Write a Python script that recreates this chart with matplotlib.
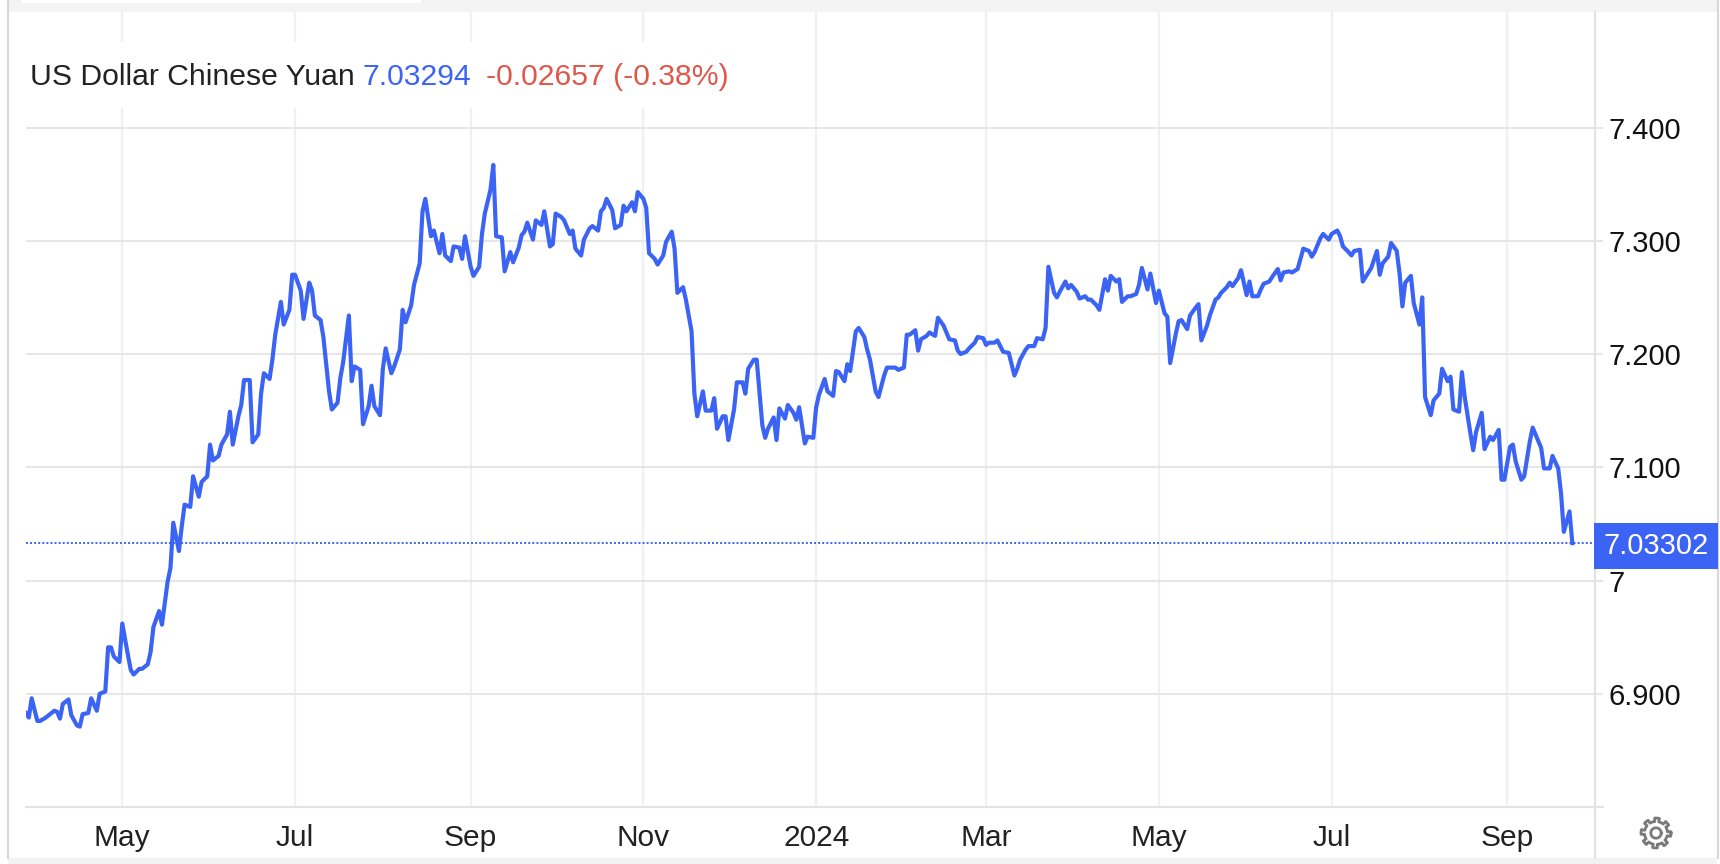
import numpy as np
import pandas as pd
import matplotlib
matplotlib.use("Agg")
import matplotlib.pyplot as plt
import matplotlib.dates as mdates
import matplotlib.transforms as mtrans
from matplotlib.patches import Rectangle
from matplotlib.lines import Line2D

# USD/CNY daily close
dates = [
    "2023-03-28", "2023-03-29", "2023-03-30", "2023-04-01", "2023-04-02", "2023-04-04", "2023-04-05", "2023-04-07", "2023-04-08", "2023-04-09",
    "2023-04-10", "2023-04-12", "2023-04-13", "2023-04-15", "2023-04-16", "2023-04-17", "2023-04-19", "2023-04-20", "2023-04-22", "2023-04-23",
    "2023-04-25", "2023-04-26", "2023-04-27", "2023-04-28", "2023-04-30", "2023-05-01", "2023-05-03", "2023-05-04", "2023-05-05", "2023-05-07",
    "2023-05-08", "2023-05-10", "2023-05-11", "2023-05-12", "2023-05-14", "2023-05-15", "2023-05-17", "2023-05-18", "2023-05-19", "2023-05-21",
    "2023-05-22", "2023-05-23", "2023-05-25", "2023-05-26", "2023-05-28", "2023-05-29", "2023-05-31", "2023-06-01", "2023-06-02", "2023-06-04",
    "2023-06-05", "2023-06-07", "2023-06-08", "2023-06-09", "2023-06-11", "2023-06-12", "2023-06-13", "2023-06-15", "2023-06-16", "2023-06-18",
    "2023-06-19", "2023-06-20", "2023-06-22", "2023-06-23", "2023-06-24", "2023-06-26", "2023-06-27", "2023-06-29", "2023-06-30", "2023-07-01",
    "2023-07-03", "2023-07-04", "2023-07-06", "2023-07-07", "2023-07-08", "2023-07-10", "2023-07-11", "2023-07-13", "2023-07-14", "2023-07-16",
    "2023-07-17", "2023-07-18", "2023-07-20", "2023-07-21", "2023-07-22", "2023-07-24", "2023-07-25", "2023-07-27", "2023-07-28", "2023-07-29",
    "2023-07-31", "2023-08-01", "2023-08-02", "2023-08-04", "2023-08-05", "2023-08-07", "2023-08-08", "2023-08-09", "2023-08-11", "2023-08-12",
    "2023-08-14", "2023-08-15", "2023-08-16", "2023-08-18", "2023-08-19", "2023-08-21", "2023-08-22", "2023-08-23", "2023-08-25", "2023-08-26",
    "2023-08-28", "2023-08-29", "2023-08-30", "2023-09-01", "2023-09-02", "2023-09-04", "2023-09-05", "2023-09-06", "2023-09-08", "2023-09-09",
    "2023-09-10", "2023-09-12", "2023-09-13", "2023-09-15", "2023-09-16", "2023-09-18", "2023-09-19", "2023-09-20", "2023-09-21", "2023-09-23",
    "2023-09-24", "2023-09-26", "2023-09-27", "2023-09-29", "2023-09-30", "2023-10-01", "2023-10-03", "2023-10-04", "2023-10-06", "2023-10-07",
    "2023-10-08", "2023-10-10", "2023-10-11", "2023-10-13", "2023-10-14", "2023-10-16", "2023-10-17", "2023-10-18", "2023-10-19", "2023-10-21",
    "2023-10-22", "2023-10-24", "2023-10-25", "2023-10-26", "2023-10-28", "2023-10-29", "2023-10-30", "2023-11-01", "2023-11-02", "2023-11-03",
    "2023-11-05", "2023-11-06", "2023-11-08", "2023-11-09", "2023-11-11", "2023-11-12", "2023-11-13", "2023-11-15", "2023-11-16", "2023-11-18",
    "2023-11-19", "2023-11-20", "2023-11-22", "2023-11-23", "2023-11-25", "2023-11-26", "2023-11-27", "2023-11-29", "2023-11-30", "2023-12-01",
    "2023-12-03", "2023-12-04", "2023-12-06", "2023-12-07", "2023-12-08", "2023-12-10", "2023-12-11", "2023-12-13", "2023-12-14", "2023-12-15",
    "2023-12-17", "2023-12-18", "2023-12-19", "2023-12-21", "2023-12-22", "2023-12-24", "2023-12-25", "2023-12-26", "2023-12-28", "2023-12-29",
    "2023-12-31", "2024-01-01", "2024-01-02", "2024-01-04", "2024-01-05", "2024-01-07", "2024-01-08", "2024-01-09", "2024-01-11", "2024-01-12",
    "2024-01-13", "2024-01-15", "2024-01-16", "2024-01-18", "2024-01-19", "2024-01-20", "2024-01-22", "2024-01-23", "2024-01-25", "2024-01-26",
    "2024-01-28", "2024-01-29", "2024-01-30", "2024-02-01", "2024-02-02", "2024-02-03", "2024-02-05", "2024-02-06", "2024-02-07", "2024-02-09",
    "2024-02-10", "2024-02-12", "2024-02-13", "2024-02-15", "2024-02-16", "2024-02-17", "2024-02-19", "2024-02-20", "2024-02-21", "2024-02-23",
    "2024-02-24", "2024-02-26", "2024-02-27", "2024-02-29", "2024-03-01", "2024-03-02", "2024-03-04", "2024-03-05", "2024-03-07", "2024-03-09",
    "2024-03-11", "2024-03-12", "2024-03-13", "2024-03-15", "2024-03-16", "2024-03-18", "2024-03-19", "2024-03-21", "2024-03-22", "2024-03-23",
    "2024-03-25", "2024-03-26", "2024-03-27", "2024-03-29", "2024-03-30", "2024-03-31", "2024-04-02", "2024-04-03", "2024-04-05", "2024-04-06",
    "2024-04-07", "2024-04-09", "2024-04-10", "2024-04-12", "2024-04-13", "2024-04-14", "2024-04-16", "2024-04-17", "2024-04-18", "2024-04-20",
    "2024-04-21", "2024-04-23", "2024-04-24", "2024-04-25", "2024-04-27", "2024-04-28", "2024-04-30", "2024-05-01", "2024-05-03", "2024-05-04",
    "2024-05-05", "2024-05-07", "2024-05-08", "2024-05-09", "2024-05-11", "2024-05-12", "2024-05-14", "2024-05-15", "2024-05-16", "2024-05-18",
    "2024-05-19", "2024-05-21", "2024-05-22", "2024-05-23", "2024-05-25", "2024-05-26", "2024-05-27", "2024-05-29", "2024-05-30", "2024-06-01",
    "2024-06-02", "2024-06-03", "2024-06-05", "2024-06-06", "2024-06-07", "2024-06-09", "2024-06-10", "2024-06-12", "2024-06-13", "2024-06-14",
    "2024-06-16", "2024-06-17", "2024-06-19", "2024-06-20", "2024-06-21", "2024-06-23", "2024-06-24", "2024-06-25", "2024-06-27", "2024-06-28",
    "2024-06-30", "2024-07-01", "2024-07-03", "2024-07-04", "2024-07-05", "2024-07-07", "2024-07-08", "2024-07-09", "2024-07-11", "2024-07-12",
    "2024-07-14", "2024-07-15", "2024-07-17", "2024-07-18", "2024-07-19", "2024-07-21", "2024-07-22", "2024-07-24", "2024-07-25", "2024-07-26",
    "2024-07-27", "2024-07-29", "2024-07-30", "2024-08-01", "2024-08-02", "2024-08-03", "2024-08-05", "2024-08-06", "2024-08-08", "2024-08-09",
    "2024-08-11", "2024-08-12", "2024-08-13", "2024-08-15", "2024-08-16", "2024-08-17", "2024-08-19", "2024-08-20", "2024-08-21", "2024-08-23",
    "2024-08-24", "2024-08-26", "2024-08-27", "2024-08-29", "2024-08-30", "2024-08-31", "2024-09-02", "2024-09-03", "2024-09-04", "2024-09-06",
    "2024-09-07", "2024-09-09", "2024-09-10", "2024-09-11", "2024-09-13", "2024-09-14", "2024-09-16", "2024-09-17", "2024-09-19", "2024-09-20",
    "2024-09-21", "2024-09-23", "2024-09-24",
]

rates = [
    6.883, 6.879, 6.896, 6.876, 6.876, 6.879, 6.881, 6.885, 6.884, 6.878,
    6.891, 6.895, 6.881, 6.872, 6.871, 6.882, 6.883, 6.896, 6.885, 6.900,
    6.902, 6.941, 6.941, 6.933, 6.928, 6.962, 6.934, 6.921, 6.917, 6.922,
    6.922, 6.926, 6.937, 6.959, 6.973, 6.961, 6.999, 7.011, 7.051, 7.026,
    7.048, 7.067, 7.065, 7.092, 7.074, 7.087, 7.092, 7.120, 7.106, 7.110,
    7.120, 7.129, 7.149, 7.120, 7.145, 7.155, 7.177, 7.177, 7.122, 7.129,
    7.165, 7.183, 7.178, 7.195, 7.217, 7.246, 7.226, 7.239, 7.270, 7.270,
    7.256, 7.231, 7.263, 7.256, 7.234, 7.230, 7.215, 7.167, 7.151, 7.157,
    7.179, 7.193, 7.234, 7.176, 7.189, 7.186, 7.138, 7.154, 7.172, 7.154,
    7.146, 7.187, 7.205, 7.183, 7.189, 7.204, 7.239, 7.228, 7.243, 7.261,
    7.280, 7.326, 7.337, 7.304, 7.309, 7.289, 7.306, 7.287, 7.282, 7.295,
    7.294, 7.284, 7.304, 7.277, 7.269, 7.277, 7.306, 7.324, 7.345, 7.367,
    7.304, 7.303, 7.273, 7.290, 7.281, 7.294, 7.305, 7.308, 7.316, 7.301,
    7.318, 7.314, 7.326, 7.295, 7.297, 7.324, 7.321, 7.318, 7.306, 7.309,
    7.293, 7.287, 7.301, 7.311, 7.313, 7.309, 7.326, 7.329, 7.337, 7.327,
    7.311, 7.314, 7.331, 7.326, 7.334, 7.326, 7.343, 7.337, 7.329, 7.289,
    7.284, 7.279, 7.287, 7.299, 7.308, 7.293, 7.254, 7.259, 7.248, 7.220,
    7.165, 7.145, 7.167, 7.150, 7.150, 7.161, 7.134, 7.145, 7.145, 7.124,
    7.151, 7.175, 7.175, 7.165, 7.187, 7.195, 7.195, 7.137, 7.126, 7.134,
    7.144, 7.124, 7.152, 7.143, 7.155, 7.148, 7.142, 7.153, 7.121, 7.127,
    7.126, 7.153, 7.164, 7.178, 7.167, 7.163, 7.185, 7.184, 7.176, 7.191,
    7.185, 7.220, 7.223, 7.215, 7.204, 7.195, 7.167, 7.162, 7.181, 7.188,
    7.188, 7.188, 7.186, 7.188, 7.217, 7.217, 7.221, 7.203, 7.213, 7.216,
    7.219, 7.216, 7.232, 7.225, 7.219, 7.213, 7.212, 7.203, 7.200, 7.202,
    7.205, 7.210, 7.215, 7.214, 7.208, 7.210, 7.210, 7.212, 7.202, 7.201,
    7.181, 7.187, 7.195, 7.204, 7.207, 7.207, 7.214, 7.213, 7.223, 7.277,
    7.254, 7.250, 7.255, 7.264, 7.258, 7.261, 7.255, 7.249, 7.251, 7.248,
    7.248, 7.243, 7.239, 7.266, 7.256, 7.269, 7.264, 7.266, 7.246, 7.251,
    7.251, 7.253, 7.261, 7.276, 7.257, 7.271, 7.245, 7.256, 7.236, 7.233,
    7.192, 7.218, 7.229, 7.230, 7.222, 7.234, 7.241, 7.244, 7.212, 7.225,
    7.234, 7.248, 7.250, 7.254, 7.259, 7.263, 7.260, 7.267, 7.274, 7.252,
    7.264, 7.251, 7.251, 7.257, 7.262, 7.264, 7.268, 7.275, 7.265, 7.272,
    7.273, 7.272, 7.275, 7.284, 7.293, 7.291, 7.286, 7.290, 7.302, 7.306,
    7.301, 7.306, 7.309, 7.304, 7.295, 7.290, 7.287, 7.291, 7.292, 7.264,
    7.272, 7.276, 7.291, 7.270, 7.280, 7.286, 7.298, 7.291, 7.271, 7.242,
    7.263, 7.269, 7.245, 7.226, 7.250, 7.162, 7.146, 7.159, 7.165, 7.187,
    7.176, 7.180, 7.151, 7.149, 7.184, 7.162, 7.130, 7.115, 7.131, 7.148,
    7.116, 7.127, 7.124, 7.133, 7.089, 7.089, 7.118, 7.120, 7.105, 7.089,
    7.092, 7.123, 7.135, 7.129, 7.117, 7.099, 7.099, 7.110, 7.099, 7.077,
    7.043, 7.061, 7.033,
]

title = "US Dollar Chinese Yuan"
last_close = 7.03294
change = -0.02657
change_pct = -0.38
last_price = 7.03302

y_ticks = [6.9, 7.0, 7.1, 7.2, 7.3, 7.4]
y_labels = ["6.900", "7", "7.100", "7.200", "7.300", "7.400"]

assert len(dates) == len(rates)

BLUE = "#3c64f4"
RED = "#e0564b"
W, H = 1720, 864

plt.rcParams["font.family"] = ["Liberation Sans", "DejaVu Sans"]


def fx(px):
    return px / W


def fy(py):
    return 1 - py / H


fig = plt.figure(figsize=(W / 100, H / 100), dpi=100)
fig.patch.set_facecolor("white")

# page furniture around the chart box
fig.add_artist(Rectangle((fx(8), fy(12)), fx(1709), 12 / H, transform=fig.transFigure,
                         facecolor="#f4f4f4", edgecolor="none", zorder=-2))
fig.add_artist(Rectangle((fx(21), fy(2.5)), fx(400), 2.5 / H, transform=fig.transFigure,
                         facecolor="white", edgecolor="none", zorder=-1))
fig.add_artist(Rectangle((fx(8), 0), fx(1709), 6 / H, transform=fig.transFigure,
                         facecolor="#f2f2f2", edgecolor="none", zorder=-2))
for xb in (7.5, 1717.5):
    fig.add_artist(Line2D([fx(xb), fx(xb)], [fy(0), fy(858)], transform=fig.transFigure,
                          color="#d7d7d7", lw=1.5, zorder=-1))

ax = fig.add_axes([fx(26), fy(807), fx(1595) - fx(26), fy(12) - fy(807)])
ax.set_facecolor("white")

x = pd.to_datetime(dates)
ax.plot(x, rates, color=BLUE, lw=3.0, solid_joinstyle="round", zorder=3)
ax.axhline(last_price, color=BLUE, lw=1.4, ls=(0, (1.0, 1.1)), zorder=2)

ax.set_xlim(pd.Timestamp("2023-03-28"), pd.Timestamp("2024-10-02"))
ax.set_ylim(6.8, 7.502)

ax.yaxis.tick_right()
ax.set_yticks(y_ticks)
ax.set_yticklabels(y_labels)
ax.xaxis.set_major_locator(mdates.MonthLocator(bymonth=[1, 3, 5, 7, 9, 11]))


def month_label(v, pos):
    d = mdates.num2date(v)
    return str(d.year) if d.month == 1 else d.strftime("%b")


ax.xaxis.set_major_formatter(plt.FuncFormatter(month_label))

ax.set_axisbelow(True)
ax.grid(axis="y", color="#e6e6e6", lw=1.4)
ax.grid(axis="x", color="#edf1f5", lw=1.6)
ax.tick_params(axis="y", length=5.8, width=1.4, color="#e6e6e6", pad=3.6,
               labelsize=21, labelcolor="#111111")
ax.tick_params(axis="x", length=0, pad=12, labelsize=21.5, labelcolor="#222222")

for s in ("left", "top"):
    ax.spines[s].set_visible(False)
ax.spines["right"].set_color("#e2e2e2")
ax.spines["right"].set_linewidth(1.5)
ax.spines["bottom"].set_color("#e3e3e3")
ax.spines["bottom"].set_linewidth(1.5)
fig.add_artist(Line2D([fx(1595), fx(1595)], [fy(807), fy(858)], transform=fig.transFigure,
                      color="#e2e2e2", lw=1.5))
fig.add_artist(Line2D([fx(1595), fx(1603)], [fy(807), fy(807)], transform=fig.transFigure,
                      color="#e3e3e3", lw=1.5))

# last price tag on the right axis
ax.annotate(f"{last_price:.5f}", xy=(1, last_price),
            xycoords=mtrans.blended_transform_factory(ax.transAxes, ax.transData),
            xytext=(6.3, -2), textcoords="offset points", ha="left", va="center",
            fontsize=21, color="white", annotation_clip=False, zorder=6,
            bbox=dict(boxstyle="square,pad=0.32", fc=BLUE, ec="none"))

# title line: name, last value, change
ty = fy(77)
tsize = 21.7
t1 = fig.text(fx(30), ty, title, fontsize=tsize, color="#222222", va="center", zorder=3)
fig.canvas.draw()
r = fig.canvas.get_renderer()
b1 = t1.get_window_extent(r)
t2 = fig.text((b1.x1 + 8) / W, ty, f"{last_close:.5f}", fontsize=tsize, color=BLUE,
              va="center", zorder=3)
b2 = t2.get_window_extent(r)
t3 = fig.text((b2.x1 + 15) / W, ty, f"{change:.5f} ({change_pct:.2f}%)", fontsize=tsize,
              color=RED, va="center", zorder=3)
b3 = t3.get_window_extent(r)
fig.add_artist(Rectangle((fx(b1.x0 - 16), fy(108)), fx(b3.x1 - b1.x0 + 32), 66 / H,
                         transform=fig.transFigure, facecolor="white", edgecolor="none",
                         zorder=1))

# settings gear
gax = fig.add_axes([fx(1636), fy(853), fx(40), 40 / H])
theta = np.linspace(0, 2 * np.pi, 1441)
phase = (theta * 8 / (2 * np.pi) + 0.3) % 1
rad = np.where(phase < 0.42, 15.0, 11.5)
gax.plot(rad * np.cos(theta), rad * np.sin(theta), color="#7a7a7a", lw=2.0,
         solid_joinstyle="round")
gax.plot(5.2 * np.cos(theta), 5.2 * np.sin(theta), color="#7a7a7a", lw=2.0)
gax.set_xlim(-20, 20)
gax.set_ylim(-20, 20)
gax.axis("off")

fig.savefig("out.png", dpi=100)
